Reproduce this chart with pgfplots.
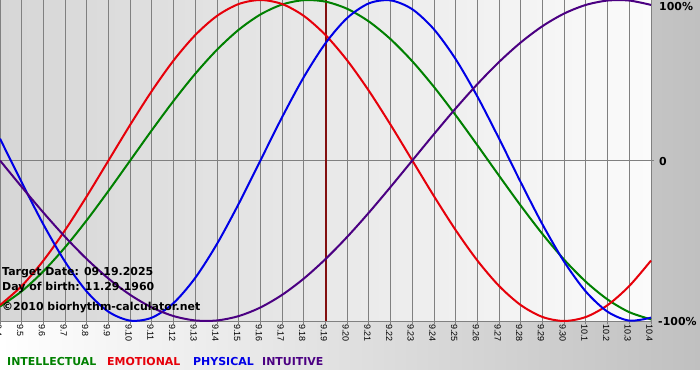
\documentclass[border=0pt]{standalone}
\usepackage{pgfplots}
\pgfplotsset{compat=1.18}
\usepackage{pgfplotstable}
\usepackage{fontspec}
\setmainfont{DejaVu Sans}
\newfontfamily\tickfont{Liberation Sans}
\definecolor{cInt}{RGB}{0,128,0}
\definecolor{cEmo}{RGB}{230,0,10}
\definecolor{cPhy}{RGB}{0,0,230}
\definecolor{cIntu}{RGB}{75,0,130}
\definecolor{cTarget}{RGB}{130,15,15}
\definecolor{gridc}{RGB}{128,128,128}
\definecolor{bgR}{RGB}{192,192,192}
\definecolor{plotL}{RGB}{214,214,214}
\definecolor{plotR}{RGB}{251,251,251}

\pgfplotstableread{
t int emo phy intu
-15 -0.9096 -0.9010 0.1362 0.0000
-14 -0.8146 -0.7818 -0.1362 -0.1646
-13 -0.6901 -0.6235 -0.3984 -0.3247
-12 -0.5406 -0.4339 -0.6311 -0.4759
-11 -0.3717 -0.2225 -0.8170 -0.6142
-10 -0.1893 0.0000 -0.9423 -0.7357
-9 0.0000 0.2225 -0.9977 -0.8372
-8 0.1893 0.4339 -0.9791 -0.9158
-7 0.3717 0.6235 -0.8879 -0.9694
-6 0.5406 0.7818 -0.7308 -0.9966
-5 0.6901 0.9010 -0.5196 -0.9966
-4 0.8146 0.9749 -0.2698 -0.9694
-3 0.9096 1.0000 0.0000 -0.9158
-2 0.9718 0.9749 0.2698 -0.8372
-1 0.9989 0.9010 0.5196 -0.7357
0 0.9898 0.7818 0.7308 -0.6142
1 0.9450 0.6235 0.8879 -0.4759
2 0.8660 0.4339 0.9791 -0.3247
3 0.7557 0.2225 0.9977 -0.1646
4 0.6182 0.0000 0.9423 0.0000
5 0.4582 -0.2225 0.8170 0.1646
6 0.2817 -0.4339 0.6311 0.3247
7 0.0951 -0.6235 0.3984 0.4759
8 -0.0951 -0.7818 0.1362 0.6142
9 -0.2817 -0.9010 -0.1362 0.7357
10 -0.4582 -0.9749 -0.3984 0.8372
11 -0.6182 -1.0000 -0.6311 0.9158
12 -0.7557 -0.9749 -0.8170 0.9694
13 -0.8660 -0.9010 -0.9423 0.9966
14 -0.9450 -0.7818 -0.9977 0.9966
15 -0.9898 -0.6235 -0.9791 0.9694
}\bio

\begin{document}
\begin{tikzpicture}
\useasboundingbox (0bp,0bp) rectangle (700bp,380bp);
\fill[white] (0bp,0bp) rectangle (700bp,380bp);
\shade[left color=white, right color=bgR] (0bp,10bp) rectangle (700bp,380bp);
\begin{axis}[
  at={(0bp,59bp)}, anchor=south west,
  width=651bp, height=321bp, scale only axis,
  xmin=-15, xmax=15, ymin=-1, ymax=1,
  clip=false,
  axis line style={draw=none},
  axis background/.style={shade, left color=plotL, right color=plotR},
  xtick={-15,...,15},
  xticklabels={9.4,9.5,9.6,9.7,9.8,9.9,9.10,9.11,9.12,9.13,9.14,9.15,9.16,9.17,9.18,9.19,9.20,9.21,9.22,9.23,9.24,9.25,9.26,9.27,9.28,9.29,9.30,10.1,10.2,10.3,10.4},
  xtick pos=bottom, ytick pos=right,
  ytick={0}, yticklabels={},
  xmajorgrids, ymajorgrids,
  grid style={gridc, line width=0.9bp},
  tick style={gridc, line width=0.9bp},
  tick align=outside, major tick length=3bp,
  tick label style={font=\tickfont\fontsize{9}{10}\selectfont},
  xticklabel style={rotate=-90, anchor=west, inner sep=0pt},
  x tick label style={yshift=-1.5bp},
]
\draw[gridc, line width=0.9bp] (axis cs:-15,-1) -- (axis cs:15,-1);
\addplot[cTarget, line width=2bp] coordinates {(0,-1) (0,1)};
\addplot[cInt, line width=2bp, smooth] table[x=t, y=int] {\bio};
\addplot[cEmo, line width=2bp, smooth] table[x=t, y=emo] {\bio};
\addplot[cPhy, line width=2bp, smooth] table[x=t, y=phy] {\bio};
\addplot[cIntu, line width=2bp, smooth] table[x=t, y=intu] {\bio};
\end{axis}
\begin{scope}[every node/.style={inner sep=0pt, anchor=base west, font=\bfseries\fontsize{11}{13}\selectfont}]
\node at (2bp,104bp) {Target Date: 09.19.2025};
\node at (2bp,89bp) {Day of birth: 11.29.1960};
\node at (2bp,69bp) {\textcopyright2010 biorhythm-calculator.net};
\node at (659bp,369bp) {100\%};
\node at (659bp,214bp) {0};
\node at (658bp,54bp) {-100\%};
\node[text=cInt] at (7bp,15bp) {INTELLECTUAL};
\node[text=cEmo] at (107bp,15bp) {EMOTIONAL};
\node[text=cPhy] at (193bp,15bp) {PHYSICAL};
\node[text=cIntu] at (262bp,15bp) {INTUITIVE};
\end{scope}
\end{tikzpicture}
\end{document}
